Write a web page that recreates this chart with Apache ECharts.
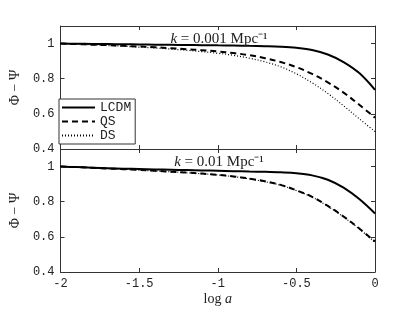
<!DOCTYPE html>
<html>
<head>
<meta charset="utf-8">
<script src="https://cdn.jsdelivr.net/npm/echarts@6/dist/echarts.min.js"></script>
<style>html,body{margin:0;padding:0;background:#fff;}#c{width:415px;height:313px;}</style>
</head>
<body>
<div id="c"></div>
<script>
// x values (log a)
const logA = [-2,-1.9,-1.8,-1.7,-1.6,-1.5,-1.4,-1.3,-1.2,-1.1,-1.0,-0.9,-0.8,-0.7,-0.6,-0.5,-0.4,-0.3,-0.2,-0.1,0];
// Panel 1: k = 0.001 Mpc^-1
const lcdmK1 = [1.000,0.999,0.998,0.997,0.996,0.995,0.994,0.993,0.992,0.991,0.990,0.989,0.987,0.985,0.982,0.976,0.964,0.938,0.895,0.832,0.737];
const qsK1   = [1.000,0.997,0.994,0.991,0.987,0.983,0.979,0.974,0.968,0.962,0.955,0.946,0.934,0.917,0.895,0.866,0.827,0.779,0.721,0.652,0.578];
const dsK1   = [1.000,0.997,0.993,0.989,0.985,0.980,0.975,0.969,0.962,0.954,0.945,0.933,0.917,0.896,0.868,0.828,0.777,0.716,0.646,0.572,0.499];
// Panel 2: k = 0.01 Mpc^-1
const lcdmK2 = [1.000,0.997,0.994,0.991,0.988,0.986,0.984,0.982,0.980,0.978,0.976,0.974,0.972,0.970,0.967,0.962,0.950,0.925,0.880,0.815,0.733];
const qsK2   = [1.000,0.997,0.993,0.989,0.985,0.981,0.976,0.971,0.966,0.960,0.953,0.944,0.932,0.916,0.896,0.865,0.828,0.776,0.716,0.648,0.573];
const dsK2   = [1.000,0.997,0.993,0.989,0.985,0.980,0.975,0.970,0.965,0.959,0.952,0.943,0.930,0.914,0.894,0.863,0.826,0.774,0.713,0.645,0.570];
const seriesNames = ['LCDM','QS','DS'];
const panelTitles = ['k = 0.001 Mpc\u207B\u00B9','k = 0.01 Mpc\u207B\u00B9'];
const yAxisName = '\u03A6 \u2212 \u03A8';
const xAxisName = 'log a';

const pair = arr => logA.map((x,i)=>[x,arr[i]]);
const mono = 'Liberation Mono';
const serif = 'Liberation Serif';
const axCol = '#333';

const lineStyles = [
  {color:'#000', width:2, type:'solid'},
  {color:'#000', width:2, type:[6,4]},
  {color:'#000', width:1.2, type:[1,2]}
];

function mkX(grid, pos, labels) {
  return {
    type:'value', gridIndex:grid, position:pos, min:-2, max:0, interval:0.5,
    axisLine:{show:true, onZero:false, lineStyle:{color:axCol, width:1}},
    axisTick:{show:true, inside:true, length:4, lineStyle:{color:axCol}},
    axisLabel:{show:labels, color:'#222', fontFamily:mono, fontSize:12, margin:6},
    splitLine:{show:false},
    name:'', nameLocation:'middle', nameGap:20,
    nameTextStyle:{fontFamily:serif, fontSize:14, color:'#222'}
  };
}
function mkY(grid, pos, labels) {
  return {
    type:'value', gridIndex:grid, position:pos, min:0.4, max:1.1, interval:0.2,
    axisLine:{show:true, onZero:false, lineStyle:{color:axCol, width:1}},
    axisTick:{show:true, inside:true, length:4, lineStyle:{color:axCol}},
    axisLabel:{show:labels, color:'#222', fontFamily:mono, fontSize:12, margin:6, showMaxLabel:false},
    splitLine:{show:false},
    name: (labels ? yAxisName : ''), nameLocation:'middle', nameGap:29, nameRotate:90,
    nameTextStyle:{fontFamily:serif, fontSize:14, color:'#222'}
  };
}

const xAxes = [mkX(0,'bottom',false), mkX(0,'top',false), mkX(1,'bottom',true), mkX(1,'top',false)];
const xParts = xAxisName.split(' ');
xAxes[2].name = '{n|' + xParts[0] + ' }{i|' + xParts[1] + '}';
xAxes[2].nameTextStyle.rich = {n:{fontFamily:serif,fontSize:14,color:'#222'}, i:{fontFamily:serif,fontSize:14,fontStyle:'italic',color:'#222'}};
const yAxes = [mkY(0,'left',true), mkY(0,'right',false), mkY(1,'left',true), mkY(1,'right',false)];

const dataK1 = [lcdmK1, qsK1, dsK1];
const dataK2 = [lcdmK2, qsK2, dsK2];
const series = [];
[dataK1, dataK2].forEach((set, g) => {
  set.forEach((arr, i) => {
    series.push({
      name: seriesNames[i], type:'line', xAxisIndex: g*2, yAxisIndex: g*2,
      data: pair(arr), showSymbol:false, symbol:'none', smooth:0.35,
      lineStyle: lineStyles[i], itemStyle:{color:'#000'}, animation:false, z: 3 - i
    });
  });
});

function titleText(t) {
  return '{i|' + t.charAt(0) + '}{n|' + t.slice(1) + '}';
}
const titleRich = {
  i:{fontFamily:serif, fontSize:15, fontStyle:'italic', fontWeight:'normal', color:'#222'},
  n:{fontFamily:serif, fontSize:15, fontWeight:'normal', color:'#222'}
};

const chart = echarts.init(document.getElementById('c'), null, {renderer:'canvas'});
chart.setOption({
  backgroundColor:'#fff',
  animation:false,
  grid:[
    {left:54, right:40, top:26, height:123},
    {left:54, right:40, top:149, height:123}
  ],
  xAxis: xAxes,
  yAxis: yAxes,
  title: [
    {text: titleText(panelTitles[0]), left:214, top:27, textAlign:'center', textStyle:{fontWeight:'normal', rich:titleRich}},
    {text: titleText(panelTitles[1]), left:214, top:150, textAlign:'center', textStyle:{fontWeight:'normal', rich:titleRich}}
  ],
  legend: {
    data: seriesNames, orient:'vertical', left:59, top:99,
    padding:[2,4,2,2], itemGap:1, itemWidth:33, itemHeight:13,
    borderColor:'#333', borderWidth:1, backgroundColor:'#fff', borderRadius:0,
    textStyle:{fontFamily:mono, fontSize:13, color:'#222', lineHeight:13},
    itemStyle:{opacity:0}
  },
  series: series
});
</script>
</body>
</html>
